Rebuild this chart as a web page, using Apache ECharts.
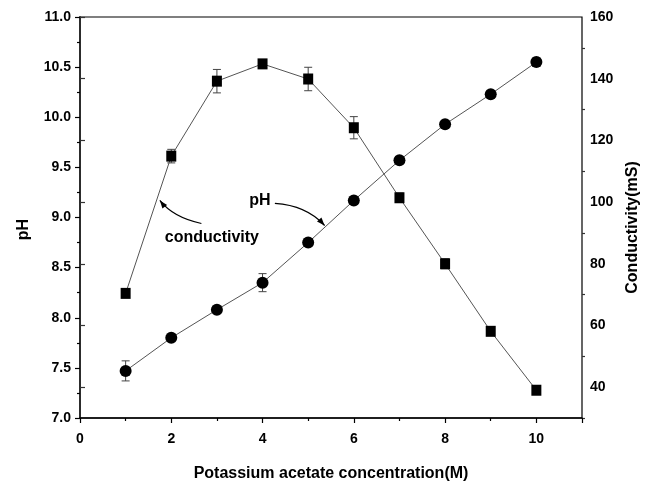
<!DOCTYPE html>
<html>
<head>
<meta charset="utf-8">
<script src="https://cdn.jsdelivr.net/npm/echarts@6/dist/echarts.min.js"></script>
<style>
  html, body { margin: 0; padding: 0; background: #fff; }
  #chart { width: 654px; height: 484px; }
</style>
</head>
<body>
<div id="chart"></div>
<script>
// Potassium acetate concentration (M)
const concentration = [1, 2, 3, 4, 5, 6, 7, 8, 9, 10];
// pH of the solution, with standard deviation
const pH = [7.47, 7.80, 8.08, 8.35, 8.75, 9.17, 9.57, 9.93, 10.23, 10.55];
const pHErr = [0.10, 0.02, 0.02, 0.09, 0.02, 0.02, 0.02, 0.02, 0.02, 0.04];
// Conductivity (mS), with standard deviation
const conductivity = [70.4, 114.9, 139.2, 144.8, 139.9, 124.1, 101.4, 80.0, 58.1, 39.0];
const condErr = [0.5, 2.2, 3.8, 0.5, 3.8, 3.6, 1.5, 1.6, 1.2, 1.0];

// Tick positions
const xMajorTicks = [0, 2, 4, 6, 8, 10];
const xMinorTicks = [1, 3, 5, 7, 9];
const condMajorTicks = [40, 60, 80, 100, 120, 140, 160];
const condMinorTicks = [30, 50, 70, 90, 110, 130, 150];

const FONT = "'Liberation Sans', Arial, Helvetica, sans-serif";
const chart = echarts.init(document.getElementById('chart'), null, { renderer: 'canvas' });

const tickLabel = { color: '#000', fontFamily: FONT, fontWeight: 'bold', fontSize: 14 };

function errorBars(values, errs) {
  return values.map((v, i) => [concentration[i], v, v - errs[i], v + errs[i]]);
}

function renderErrorBar(params, api) {
  const x = api.value(0);
  const lo = api.coord([x, api.value(2)]);
  const hi = api.coord([x, api.value(3)]);
  const cap = 4;
  const style = { stroke: '#444', lineWidth: 1 };
  return {
    type: 'group',
    children: [
      { type: 'line', shape: { x1: lo[0], y1: lo[1], x2: hi[0], y2: hi[1] }, style },
      { type: 'line', shape: { x1: lo[0] - cap, y1: lo[1], x2: lo[0] + cap, y2: lo[1] }, style },
      { type: 'line', shape: { x1: hi[0] - cap, y1: hi[1], x2: hi[0] + cap, y2: hi[1] }, style }
    ]
  };
}

const axisLineStyle = { color: '#000', width: 1.5 };

chart.setOption({
  animation: false,
  backgroundColor: '#fff',
  grid: {
    left: 80, right: 72, top: 17, bottom: 66,
    outerBoundsMode: 'none', containLabel: false,
    show: true, borderColor: '#000', borderWidth: 1.2, backgroundColor: 'transparent'
  },
  xAxis: [
    {
      type: 'value', min: 0, max: 11, position: 'bottom',
      name: 'Potassium acetate concentration(M)', nameLocation: 'middle', nameGap: 48,
      nameTextStyle: { color: '#000', fontFamily: FONT, fontWeight: 'bold', fontSize: 16 },
      axisLine: { lineStyle: axisLineStyle },
      axisTick: { customValues: xMajorTicks.concat([11]), length: 5, lineStyle: { color: '#000', width: 1.2 } },
      axisLabel: Object.assign({ customValues: xMajorTicks, margin: 14 }, tickLabel),
      splitLine: { show: false }
    },
    {
      type: 'value', min: 0, max: 11, position: 'bottom',
      axisLine: { show: false },
      axisTick: { customValues: xMinorTicks, length: 3, lineStyle: { color: '#000', width: 1.2 } },
      axisLabel: { show: false },
      splitLine: { show: false }
    }
  ],
  yAxis: [
    {
      type: 'value', min: 7, max: 11, interval: 0.5, position: 'left',
      name: 'pH', nameLocation: 'middle', nameGap: 48, nameRotate: 90,
      nameTextStyle: { color: '#000', fontFamily: FONT, fontWeight: 'bold', fontSize: 16, padding: [0, 24, 0, 0] },
      axisLine: { show: true, lineStyle: axisLineStyle },
      axisTick: { length: 5, lineStyle: { color: '#000', width: 1.2 } },
      minorTick: { show: true, splitNumber: 2, length: 3, lineStyle: { color: '#000', width: 1.2 } },
      axisLabel: Object.assign({ formatter: v => v.toFixed(1), margin: 9 }, tickLabel),
      splitLine: { show: false }
    },
    {
      type: 'value', min: 30, max: 160, position: 'right',
      name: 'Conductivity(mS)', nameLocation: 'middle', nameGap: 40, nameRotate: 90,
      nameTextStyle: { color: '#000', fontFamily: FONT, fontWeight: 'bold', fontSize: 16, padding: [0, 20, 0, 0] },
      axisLine: { show: true, lineStyle: { color: '#333', width: 1.5 } },
      axisTick: { customValues: condMajorTicks, length: 5, lineStyle: { color: '#333', width: 1.2 } },
      axisLabel: Object.assign({ customValues: condMajorTicks, margin: 8 }, tickLabel),
      splitLine: { show: false }
    },
    {
      type: 'value', min: 30, max: 160, position: 'right',
      axisLine: { show: false },
      axisTick: { customValues: condMinorTicks, length: 3, lineStyle: { color: '#333', width: 1.2 } },
      axisLabel: { show: false },
      splitLine: { show: false }
    }
  ],
  series: [
    {
      type: 'custom', name: 'pH error', xAxisIndex: 0, yAxisIndex: 0, z: 1,
      renderItem: renderErrorBar, data: errorBars(pH, pHErr)
    },
    {
      type: 'custom', name: 'conductivity error', xAxisIndex: 0, yAxisIndex: 1, z: 1,
      renderItem: renderErrorBar, data: errorBars(conductivity, condErr)
    },
    {
      type: 'line', name: 'pH', xAxisIndex: 0, yAxisIndex: 0, z: 3,
      data: concentration.map((c, i) => [c, pH[i]]),
      symbol: 'circle', symbolSize: 12,
      itemStyle: { color: '#000', borderWidth: 0 },
      lineStyle: { color: '#555', width: 1 }
    },
    {
      type: 'line', name: 'conductivity', xAxisIndex: 0, yAxisIndex: 1, z: 3,
      data: concentration.map((c, i) => [c, conductivity[i]]),
      symbol: 'rect', symbolSize: [10, 11],
      itemStyle: { color: '#000', borderWidth: 0 },
      lineStyle: { color: '#555', width: 1 }
    }
  ]
});

// Curved annotation arrows, anchored in (concentration, pH) data space
const annotations = [
  { text: 'pH', at: [3.94, 9.17], from: [4.27, 9.14], ctrl: [4.96, 9.12], to: [5.36, 8.92] },
  { text: 'conductivity', at: [2.89, 8.80], from: [2.66, 8.94], ctrl: [2.04, 9.00], to: [1.75, 9.17] }
];

function px(p) {
  return chart.convertToPixel({ xAxisIndex: 0, yAxisIndex: 0 }, p);
}

const graphics = [];
annotations.forEach(a => {
  const t = px(a.at), s = px(a.from), c = px(a.ctrl), e = px(a.to);
  graphics.push({
    type: 'text', x: t[0], y: t[1],
    style: { text: a.text, fill: '#000', font: 'bold 16px ' + FONT, align: 'center', verticalAlign: 'middle' }
  });
  graphics.push({
    type: 'bezierCurve',
    shape: { x1: s[0], y1: s[1], cpx1: c[0], cpy1: c[1], x2: e[0], y2: e[1] },
    style: { stroke: '#000', lineWidth: 1.2, fill: null }
  });
  const ang = Math.atan2(e[1] - c[1], e[0] - c[0]);
  const L = 8, W = 3;
  const bx = e[0] - L * Math.cos(ang), by = e[1] - L * Math.sin(ang);
  graphics.push({
    type: 'polygon',
    shape: { points: [
      [e[0], e[1]],
      [bx - W * Math.sin(ang), by + W * Math.cos(ang)],
      [bx + W * Math.sin(ang), by - W * Math.cos(ang)]
    ] },
    style: { fill: '#000' }
  });
});
chart.setOption({ graphic: graphics });
</script>
</body>
</html>
